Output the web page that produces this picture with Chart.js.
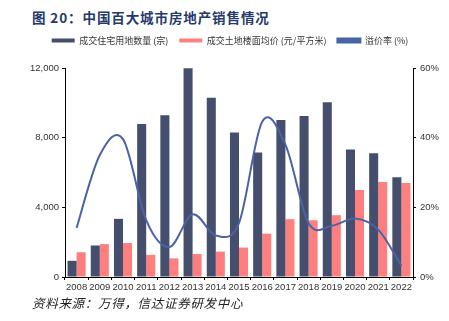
<!DOCTYPE html>
<html>
<head>
<meta charset="utf-8">
<script src="https://cdn.jsdelivr.net/npm/chart.js@4/dist/chart.umd.min.js"></script>
<style>
    html, body { margin: 0; padding: 0; background: #fff; overflow: hidden; width: 449px; height: 321px; }
    .title {
        position: absolute; left: 32px; top: 7px;
        font: bold 13.5px "Noto Sans CJK SC", sans-serif;
        letter-spacing: 0.9px; color: #25396a; white-space: nowrap;
    }
    .source {
        position: absolute; left: 32px; top: 293px;
        font: italic 12.5px "Noto Sans CJK SC", sans-serif;
        letter-spacing: 0.7px; color: #222; white-space: nowrap;
    }
    .wrap { position: absolute; left: 0; top: 25px; width: 460px; height: 275px; }
</style>
</head>
<body>
<div class="title">图 20：中国百大城市房地产销售情况</div>
<div class="wrap"><canvas id="chart"></canvas></div>
<div class="source">资料来源：万得，信达证券研发中心</div>

<script>
// Data
const years = ['2008', '2009', '2010', '2011', '2012', '2013', '2014', '2015', '2016', '2017', '2018', '2019', '2020', '2021', '2022'];
const landDeals = [930, 1810, 3340, 8780, 9280, 11980, 10290, 8290, 7150, 9010, 9240, 10040, 7320, 7110, 5730];
const landPrice = [1420, 1890, 1950, 1270, 1070, 1320, 1460, 1690, 2490, 3320, 3260, 3550, 4990, 5460, 5400];
const premiumRate = [14.1, 35.0, 39.6, 16.3, 8.6, 18.0, 11.9, 15.5, 44.6, 38.0, 15.4, 14.7, 16.8, 13.6, 3.2];

const tickFont = { family: 'Liberation Sans, Arial, sans-serif', size: 9.5 };

// legend sits a little further from the plot than Chart.js puts it
const legendGap = {
    id: 'legendGap',
    beforeInit(chart) {
        const fit = chart.legend.fit;
        chart.legend.fit = function () {
            fit.bind(chart.legend)();
            this.height += 13;
        };
    }
};

// plain Catmull-Rom smoothing for the line (even spacing along x),
// instead of Chart.js's distance-weighted control points
const evenSpline = {
    id: 'evenSpline',
    beforeDatasetDraw(chart, args) {
        const meta = args.meta;
        if (meta.type !== 'line') return;
        meta.dataset.updateControlPoints(chart.chartArea, 'x');
        const pts = meta.data;
        pts.forEach((p, i) => {
            const prev = pts[i - 1] || p;
            const next = pts[i + 1] || p;
            const dx = (next.x - prev.x) / 6;
            const dy = (next.y - prev.y) / 6;
            p.cp1x = p.x - dx;
            p.cp1y = p.y - dy;
            p.cp2x = p.x + dx;
            p.cp2y = p.y + dy;
        });
    }
};

new Chart(document.getElementById('chart'), {
    type: 'bar',
    data: {
        labels: years,
        datasets: [
            {
                label: '成交住宅用地数量 (宗)',
                data: landDeals,
                backgroundColor: '#454f6d',
                yAxisID: 'y',
                order: 1
            },
            {
                label: '成交土地楼面均价 (元/平方米)',
                data: landPrice,
                backgroundColor: '#ff7f7f',
                yAxisID: 'y',
                order: 1
            },
            {
                type: 'line',
                label: '溢价率 (%)',
                data: premiumRate,
                borderColor: '#4a62a6',
                backgroundColor: '#4a62a6',
                borderWidth: 2,
                pointRadius: 0,
                tension: 0.33,
                yAxisID: 'y1',
                order: 0
            }
        ]
    },
    options: {
        responsive: true,
        maintainAspectRatio: false,
        animation: false,
        layout: { padding: 0 },
        datasets: {
            bar: { categoryPercentage: 0.78, barPercentage: 1.0 }
        },
        plugins: {
            legend: {
                position: 'top',
                labels: {
                    boxWidth: 23,
                    boxHeight: 4,
                    padding: 11,
                    color: '#333',
                    font: { family: '"Noto Sans CJK SC", sans-serif', size: 9 },
                    sort: (a, b) => a.datasetIndex - b.datasetIndex
                }
            },
            tooltip: { enabled: false }
        },
        scales: {
            x: {
                grid: { drawOnChartArea: false, drawTicks: true, tickLength: 3, color: '#000' },
                border: { color: '#000' },
                ticks: { color: '#333', font: tickFont, padding: 2, maxRotation: 0, autoSkip: false },
                afterFit: (s) => { s.height = 23; }
            },
            y: {
                position: 'left',
                min: 0, max: 12000,
                grid: { drawOnChartArea: false, tickLength: 3, color: '#000' },
                border: { color: '#000' },
                ticks: {
                    stepSize: 4000, color: '#333', font: tickFont, padding: 3,
                    callback: (v) => v.toLocaleString('en-US')
                },
                afterFit: (s) => { s.width = 65; }
            },
            y1: {
                position: 'right',
                min: 0, max: 60,
                grid: { drawOnChartArea: false, tickLength: 3, color: '#000' },
                border: { color: '#000' },
                ticks: {
                    stepSize: 20, color: '#333', font: tickFont, padding: 4,
                    callback: (v) => v + '%'
                },
                afterFit: (s) => { s.width = 47; }
            }
        }
    },
    plugins: [legendGap, evenSpline]
});
</script>
</body>
</html>
